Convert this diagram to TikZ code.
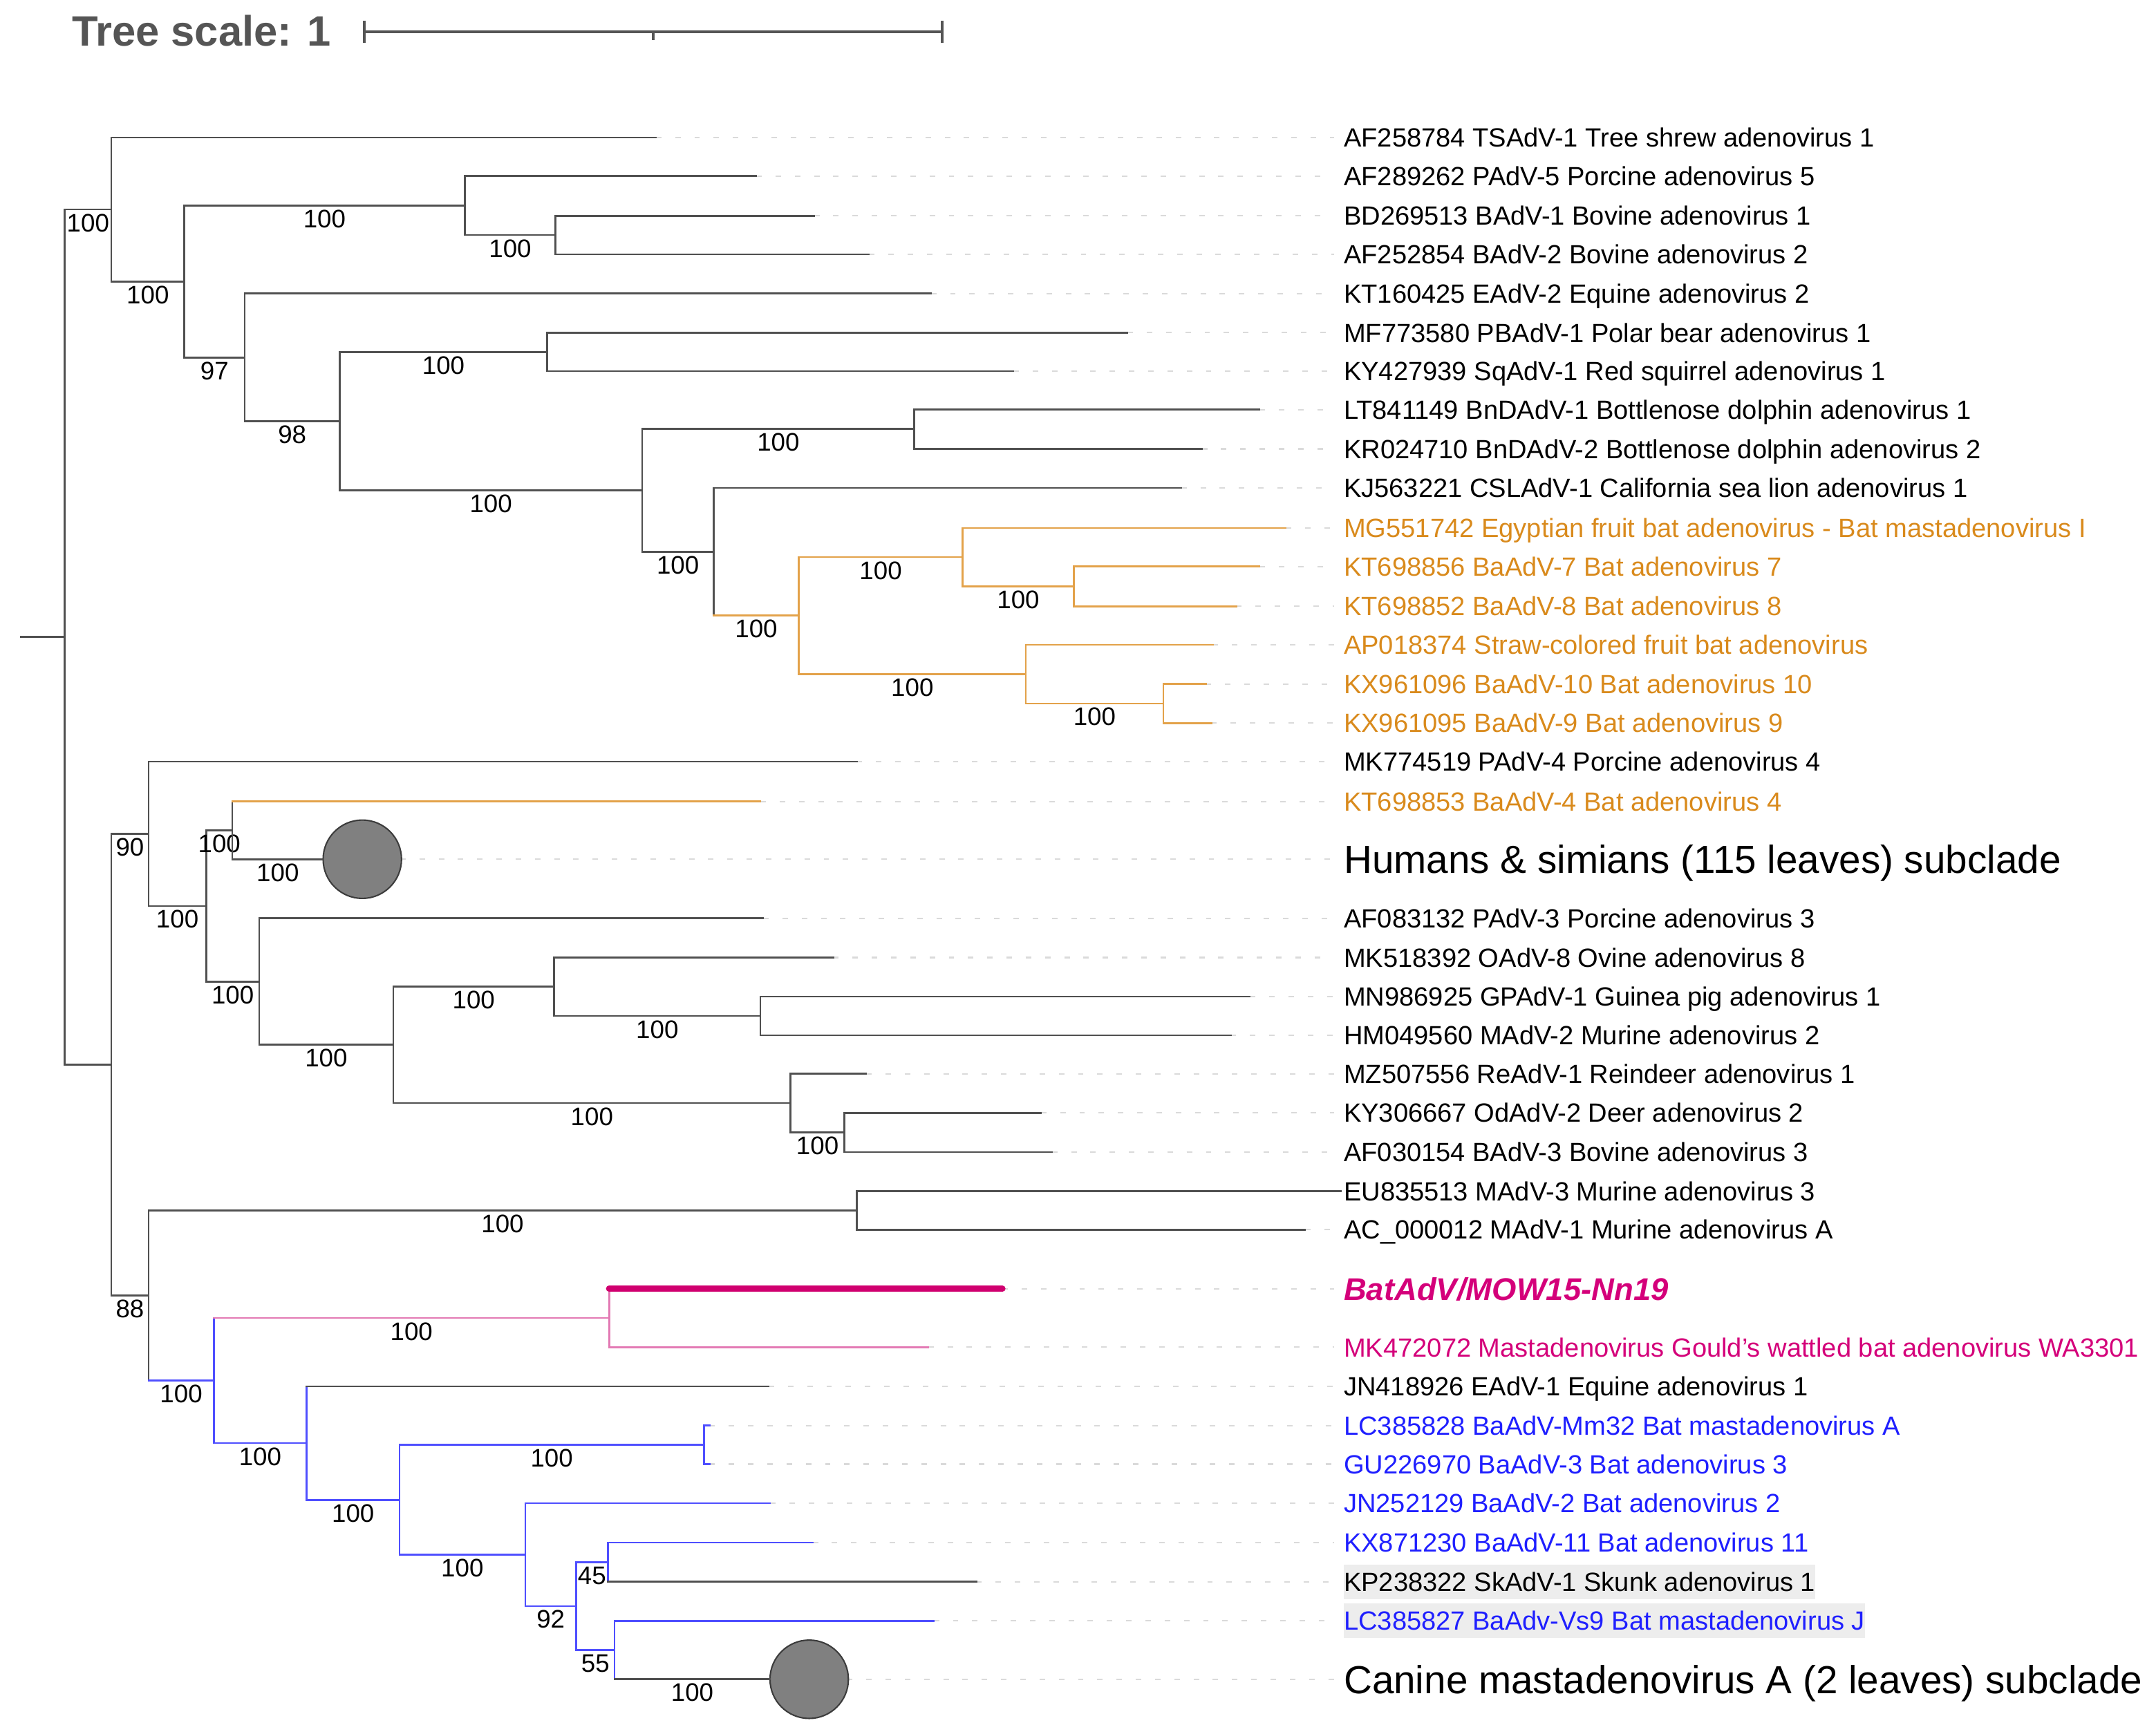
\documentclass[tikz,border=0pt]{standalone}
\usepackage{fontspec}
\setmainfont{Liberation Sans}
\usetikzlibrary{calc}
\definecolor{treeg}{HTML}{505050}
\definecolor{orgbr}{HTML}{E3A24A}
\definecolor{orgtx}{HTML}{D98A1C}
\definecolor{bluebr}{HTML}{4F4FFF}
\definecolor{bluetx}{HTML}{1F1FFF}
\definecolor{pinkbr}{HTML}{E37AB4}
\definecolor{magtx}{HTML}{D4007A}
\definecolor{magbr}{HTML}{D0006F}
\definecolor{leadc}{HTML}{DADADA}
\definecolor{hlbox}{HTML}{EDEDED}
\definecolor{cladef}{HTML}{808080}
\definecolor{cladeo}{HTML}{3C3C3C}
\definecolor{scalec}{HTML}{555555}
\tikzset{
  br/.style={line width=0.75pt, line cap=rect},
  lab/.style={anchor=west, inner sep=0pt, text height=7.8pt, text depth=0pt,
    font=\fontsize{10.9}{12}\selectfont, text=black},
  orgl/.style={text=orgtx},
  bluel/.style={text=bluetx},
  magl/.style={text=magtx},
  hl/.style={fill=hlbox, inner ysep=1.15mm},
  big/.style={font=\fontsize{16.2}{19}\selectfont, text height=11.6pt},
  lead/.style={draw=leadc, line width=0.6pt, dash pattern=on 0.8mm off 2mm},
  bs/.style={midway, anchor=center, inner sep=0pt, text height=7.5pt, text depth=0pt,
    yshift=-1.9mm, text=black, font=\fontsize{10.5}{12}\selectfont},
  clade/.style={circle, draw=cladeo, fill=cladef, line width=0.6pt, minimum size=11.4mm, inner sep=0pt},
  sc/.style={draw=scalec, line width=1.1pt},
}
\newcommand\vbar[4][treeg]{\draw[br,#1] (#2 |- #3) -- (#2 |- #4);}
\newcommand\hbr[3][treeg]{\draw[br,#1] (#2 |- #3) -- (#3);}
\newcommand\hbs[4][treeg]{\draw[br,#1] (#2 |- #3) -- node[bs]{#4} (#3);}
\newcommand\leaf[5]{%
  \coordinate (l#1) at (#2,#3);
  \node[lab,#4] (t#1) at (977,#3) {#5};
  \draw[lead] (l#1) -- ([xshift=-1.4mm]t#1.west);}
\begin{document}
\begin{tikzpicture}[x=0.2mm,y=-0.2mm]
\useasboundingbox (0,0) rectangle (1568,1261);

% scale
\node[anchor=base west, inner sep=0pt, text=scalec, font=\bfseries\fontsize{17.6}{20}\selectfont] (ts) at (52,33.5) {Tree scale: 1};
\coordinate (s0) at (265,23);
\coordinate (s1) at (685,23);
\coordinate (sm) at (475,23);
\draw[sc] (s0) -- (s1);
\draw[sc] ([yshift=1.6mm]s0) -- ([yshift=-1.6mm]s0);
\draw[sc] ([yshift=1.6mm]s1) -- ([yshift=-1.6mm]s1);
\draw[sc] (sm) -- ([yshift=-1.2mm]sm);

% leaves
\leaf{1}{477}{100}{}{AF258784 TSAdV-1 Tree shrew adenovirus 1}
\leaf{2}{550}{128}{}{AF289262 PAdV-5 Porcine adenovirus 5}
\leaf{3}{592}{157}{}{BD269513 BAdV-1 Bovine adenovirus 1}
\leaf{4}{632}{185}{}{AF252854 BAdV-2 Bovine adenovirus 2}
\leaf{5}{677}{213.5}{}{KT160425 EAdV-2 Equine adenovirus 2}
\leaf{6}{820}{242}{}{MF773580 PBAdV-1 Polar bear adenovirus 1}
\leaf{7}{737}{270}{}{KY427939 SqAdV-1 Red squirrel adenovirus 1}
\leaf{8}{916}{298}{}{LT841149 BnDAdV-1 Bottlenose dolphin adenovirus 1}
\leaf{9}{874}{326.5}{}{KR024710 BnDAdV-2 Bottlenose dolphin adenovirus 2}
\leaf{10}{859}{355}{}{KJ563221 CSLAdV-1 California sea lion adenovirus 1}
\leaf{11}{935}{384}{orgl}{MG551742 Egyptian fruit bat adenovirus - Bat mastadenovirus I}
\leaf{12}{916}{412}{orgl}{KT698856 BaAdV-7 Bat adenovirus 7}
\leaf{13}{899}{441}{orgl}{KT698852 BaAdV-8 Bat adenovirus 8}
\leaf{14}{882}{469}{orgl}{AP018374 Straw-colored fruit bat adenovirus}
\leaf{15}{877}{497.5}{orgl}{KX961096 BaAdV-10 Bat adenovirus 10}
\leaf{16}{881}{526}{orgl}{KX961095 BaAdV-9 Bat adenovirus 9}
\leaf{17}{623}{554}{}{MK774519 PAdV-4 Porcine adenovirus 4}
\leaf{18}{553}{583}{orgl}{KT698853 BaAdV-4 Bat adenovirus 4}
\leaf{20}{555}{668}{}{AF083132 PAdV-3 Porcine adenovirus 3}
\leaf{21}{606}{696.5}{}{MK518392 OAdV-8 Ovine adenovirus 8}
\leaf{22}{909}{725}{}{MN986925 GPAdV-1 Guinea pig adenovirus 1}
\leaf{23}{895}{753}{}{HM049560 MAdV-2 Murine adenovirus 2}
\leaf{24}{630}{781}{}{MZ507556 ReAdV-1 Reindeer adenovirus 1}
\leaf{25}{757}{809.5}{}{KY306667 OdAdV-2 Deer adenovirus 2}
\leaf{26}{765}{838}{}{AF030154 BAdV-3 Bovine adenovirus 3}
\coordinate (l27) at (975,866.5);
\node[lab] (t27) at (977,866.5) {EU835513 MAdV-3 Murine adenovirus 3};
\leaf{28}{949}{894.5}{}{AC\_000012 MAdV-1 Murine adenovirus A}
\leaf{29}{729}{937.5}{magl, font=\bfseries\itshape\fontsize{13}{15}\selectfont, text height=9.3pt}{BatAdV/MOW15-Nn19}
\leaf{30}{675}{980}{magl}{MK472072 Mastadenovirus Gould’s wattled bat adenovirus WA3301}
\leaf{31}{559}{1008.5}{}{JN418926 EAdV-1 Equine adenovirus 1}
\leaf{32}{516}{1037}{bluel}{LC385828 BaAdV-Mm32 Bat mastadenovirus A}
\leaf{33}{516}{1065}{bluel}{GU226970 BaAdV-3 Bat adenovirus 3}
\leaf{34}{560}{1093.5}{bluel}{JN252129 BaAdV-2 Bat adenovirus 2}
\leaf{35}{591}{1122}{bluel}{KX871230 BaAdV-11 Bat adenovirus 11}
\leaf{36}{710}{1150.5}{hl}{KP238322 SkAdV-1 Skunk adenovirus 1}
\leaf{37}{679}{1179}{bluel,hl}{LC385827 BaAdv-Vs9 Bat mastadenovirus J}

% collapsed clades
\coordinate (hum) at (235,625);
\node[lab,big] (thum) at (977,625) {Humans \& simians (115 leaves) subclade};
\draw[lead] (hum) -- ([xshift=-1.4mm]thum.west);
\node[clade] (humc) at (263.5,625) {};
\coordinate (can) at (560,1221.5);
\node[lab,big] (tcan) at (977,1221.5) {Canine mastadenovirus A (2 leaves) subclade};
\draw[lead] (can) -- ([xshift=-1.4mm]tcan.west);
\node[clade] (canc) at (588.5,1221.5) {};

% internal nodes
\coordinate (rs) at (15,463.4);
\coordinate (root) at (47,463.4);
\coordinate (A) at (81,152.4);
\coordinate (B) at (134,204.7);
\coordinate (C) at (338,149.5);
\coordinate (C2) at (404,171);
\coordinate (D) at (178,260);
\coordinate (E) at (247,306.4);
\coordinate (F) at (398,256);
\coordinate (G) at (467,356.7);
\coordinate (H) at (665,312);
\coordinate (I) at (519,401.4);
\coordinate (J) at (581,447.8);
\coordinate (K) at (700,405.25);
\coordinate (K2) at (781,426.5);
\coordinate (L) at (746,490.4);
\coordinate (M) at (846,511.75);
\coordinate (N) at (81,774.4);
\coordinate (O) at (108,606.5);
\coordinate (Q) at (150,659);
\coordinate (R) at (169,604);
\coordinate (S) at (188.5,714);
\coordinate (T) at (286,760);
\coordinate (U) at (403,717.75);
\coordinate (W) at (553,739);
\coordinate (V) at (575,802.4);
\coordinate (X) at (614,823.75);
\coordinate (P) at (108,942.4);
\coordinate (Y) at (623,880.5);
\coordinate (Z) at (155.5,1004.25);
\coordinate (AA) at (443,958.75);
\coordinate (AB) at (223,1049.75);
\coordinate (AC) at (290.5,1091);
\coordinate (AD) at (512,1051);
\coordinate (AE) at (382,1130.9);
\coordinate (AF) at (419,1168.25);
\coordinate (AG) at (442,1136.25);
\coordinate (AH) at (447,1200.25);

% root
\draw[br,treeg] (rs) -- (root);
\vbar{root}{A}{N}
\hbs{root}{A}{100}
\hbr{root}{N}
% upper clade
\vbar{A}{l1}{B}  \hbr{A}{l1}  \hbs{A}{B}{100}
\vbar{B}{C}{D}   \hbs{B}{C}{100}  \hbs{B}{D}{97}
\vbar{C}{l2}{C2} \hbr{C}{l2}  \hbs{C}{C2}{100}
\vbar{C2}{l3}{l4} \hbr{C2}{l3} \hbr{C2}{l4}
\vbar{D}{l5}{E}  \hbr{D}{l5}  \hbs{D}{E}{98}
\vbar{E}{F}{G}   \hbs{E}{F}{100} \hbs{E}{G}{100}
\vbar{F}{l6}{l7} \hbr{F}{l6} \hbr{F}{l7}
\vbar{G}{H}{I}   \hbs{G}{H}{100} \hbs{G}{I}{100}
\vbar{H}{l8}{l9} \hbr{H}{l8} \hbr{H}{l9}
\vbar{I}{l10}{J} \hbr{I}{l10} \hbs[orgbr]{I}{J}{100}
\vbar[orgbr]{J}{K}{L} \hbs[orgbr]{J}{K}{100} \hbs[orgbr]{J}{L}{100}
\vbar[orgbr]{K}{l11}{K2} \hbr[orgbr]{K}{l11} \hbs[orgbr]{K}{K2}{100}
\vbar[orgbr]{K2}{l12}{l13} \hbr[orgbr]{K2}{l12} \hbr[orgbr]{K2}{l13}
\vbar[orgbr]{L}{l14}{M} \hbr[orgbr]{L}{l14} \hbs[orgbr]{L}{M}{100}
\vbar[orgbr]{M}{l15}{l16} \hbr[orgbr]{M}{l15} \hbr[orgbr]{M}{l16}
% lower clade
\vbar{N}{O}{P}   \hbs{N}{O}{90} \hbs{N}{P}{88}
\vbar{O}{l17}{Q} \hbr{O}{l17} \hbs{O}{Q}{100}
\vbar{Q}{R}{S}   \hbs{Q}{R}{100} \hbs{Q}{S}{100}
\vbar{R}{l18}{hum} \hbr[orgbr]{R}{l18} \hbs{R}{hum}{100}
\vbar{S}{l20}{T} \hbr{S}{l20} \hbs{S}{T}{100}
\vbar{T}{U}{V}   \hbs{T}{U}{100} \hbs{T}{V}{100}
\vbar{U}{l21}{W} \hbr{U}{l21} \hbs{U}{W}{100}
\vbar{W}{l22}{l23} \hbr{W}{l22} \hbr{W}{l23}
\vbar{V}{l24}{X} \hbr{V}{l24} \hbs{V}{X}{100}
\vbar{X}{l25}{l26} \hbr{X}{l25} \hbr{X}{l26}
\vbar{P}{Y}{Z}   \hbs{P}{Y}{100} \hbs[bluebr]{P}{Z}{100}
\vbar{Y}{l27}{l28} \hbr{Y}{l27} \hbr{Y}{l28}
\vbar[bluebr]{Z}{AA}{AB} \hbs[pinkbr]{Z}{AA}{100} \hbs[bluebr]{Z}{AB}{100}
\vbar[pinkbr]{AA}{l29}{l30}
\draw[line width=2.6pt, line cap=round, magbr] (AA |- l29) -- (l29);
\hbr[pinkbr]{AA}{l30}
\vbar[bluebr]{AB}{l31}{AC} \hbr{AB}{l31} \hbs[bluebr]{AB}{AC}{100}
\vbar[bluebr]{AC}{AD}{AE} \hbs[bluebr]{AC}{AD}{100} \hbs[bluebr]{AC}{AE}{100}
\vbar[bluebr]{AD}{l32}{l33} \hbr[bluebr]{AD}{l32} \hbr[bluebr]{AD}{l33}
\vbar[bluebr]{AE}{l34}{AF} \hbr[bluebr]{AE}{l34} \hbs[bluebr]{AE}{AF}{92}
\vbar[bluebr]{AF}{AG}{AH} \hbs[bluebr]{AF}{AG}{45} \hbs[bluebr]{AF}{AH}{55}
\vbar[bluebr]{AG}{l35}{l36} \hbr[bluebr]{AG}{l35} \hbr{AG}{l36}
\vbar[bluebr]{AH}{l37}{can} \hbr[bluebr]{AH}{l37} \hbs{AH}{can}{100}
\end{tikzpicture}
\end{document}
